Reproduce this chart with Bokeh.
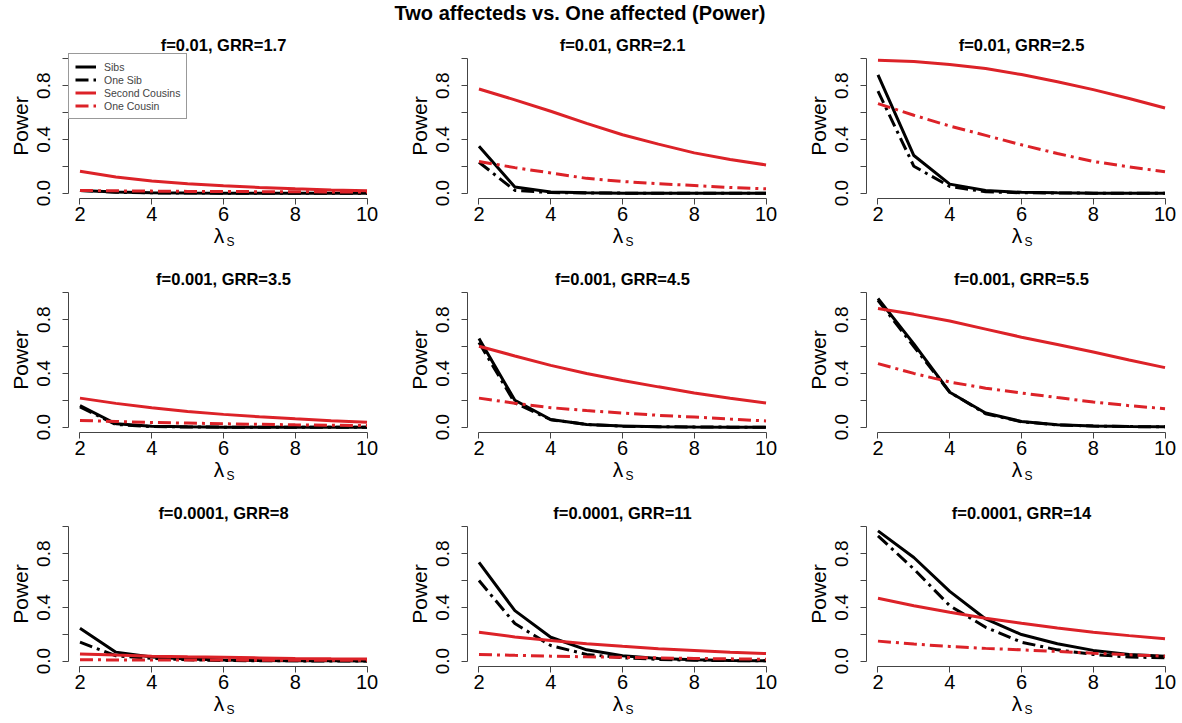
from bokeh.plotting import figure
from bokeh.layouts import gridplot, column
from bokeh.models import (FixedTicker, PrintfTickFormatter, Legend,
                          LegendItem, Div, Range1d, LinearAxis)
from bokeh.embed import file_html
from bokeh.resources import INLINE

# ---------------- data ----------------
main_title = "Two affecteds vs. One affected (Power)"
lambda_s = [2, 3, 4, 5, 6, 7, 8, 9, 10]
x_ticks = [2, 4, 6, 8, 10]
y_ticks = [0.0, 0.4, 0.8]
y_minor_ticks = [0.2, 0.6, 1.0]
panel_titles = [
    "f=0.01, GRR=1.7", "f=0.01, GRR=2.1", "f=0.01, GRR=2.5",
    "f=0.001, GRR=3.5", "f=0.001, GRR=4.5", "f=0.001, GRR=5.5",
    "f=0.0001, GRR=8", "f=0.0001, GRR=11", "f=0.0001, GRR=14",
]
series_names = ["Sibs", "One Sib", "Second Cousins", "One Cousin"]
x_label_main = "λ"
x_label_sub = "S"
y_label = "Power"

sibs = [
    [0.02, 0.008, 0.003, 0.001, 0.0, 0.0, 0.0, 0.0, 0.0],
    [0.35, 0.045, 0.008, 0.002, 0.0, 0.0, 0.0, 0.0, 0.0],
    [0.88, 0.28, 0.067, 0.02, 0.006, 0.002, 0.0, 0.0, 0.0],
    [0.16, 0.025, 0.006, 0.002, 0.0, 0.0, 0.0, 0.0, 0.0],
    [0.66, 0.20, 0.057, 0.02, 0.008, 0.003, 0.001, 0.0, 0.0],
    [0.958, 0.62, 0.26, 0.105, 0.042, 0.018, 0.008, 0.004, 0.002],
    [0.245, 0.067, 0.03, 0.015, 0.008, 0.005, 0.003, 0.002, 0.001],
    [0.735, 0.376, 0.178, 0.084, 0.04, 0.02, 0.01, 0.005, 0.003],
    [0.97, 0.772, 0.52, 0.314, 0.198, 0.129, 0.08, 0.05, 0.037],
]
one_sib = [
    [0.02, 0.006, 0.002, 0.001, 0.0, 0.0, 0.0, 0.0, 0.0],
    [0.23, 0.02, 0.004, 0.001, 0.0, 0.0, 0.0, 0.0, 0.0],
    [0.76, 0.20, 0.05, 0.01, 0.003, 0.001, 0.0, 0.0, 0.0],
    [0.15, 0.02, 0.004, 0.001, 0.0, 0.0, 0.0, 0.0, 0.0],
    [0.63, 0.18, 0.055, 0.02, 0.007, 0.003, 0.001, 0.0, 0.0],
    [0.945, 0.60, 0.26, 0.10, 0.04, 0.017, 0.008, 0.004, 0.002],
    [0.141, 0.04, 0.02, 0.01, 0.005, 0.003, 0.002, 0.001, 0.001],
    [0.60, 0.28, 0.116, 0.05, 0.025, 0.013, 0.007, 0.004, 0.002],
    [0.933, 0.686, 0.413, 0.252, 0.141, 0.084, 0.05, 0.03, 0.025],
]
second_cousins = [
    [0.163, 0.12, 0.09, 0.07, 0.055, 0.042, 0.032, 0.024, 0.017],
    [0.776, 0.695, 0.61, 0.52, 0.435, 0.365, 0.30, 0.25, 0.21],
    [0.99, 0.98, 0.958, 0.928, 0.883, 0.83, 0.771, 0.705, 0.634],
    [0.216, 0.177, 0.144, 0.117, 0.095, 0.077, 0.062, 0.048, 0.037],
    [0.602, 0.53, 0.46, 0.40, 0.348, 0.30, 0.254, 0.215, 0.18],
    [0.883, 0.84, 0.79, 0.73, 0.67, 0.615, 0.56, 0.50, 0.443],
    [0.054, 0.045, 0.037, 0.032, 0.028, 0.024, 0.02, 0.017, 0.015],
    [0.215, 0.18, 0.153, 0.13, 0.11, 0.093, 0.08, 0.066, 0.056],
    [0.468, 0.413, 0.364, 0.32, 0.282, 0.246, 0.215, 0.19, 0.166],
]
one_cousin = [
    [0.02, 0.017, 0.015, 0.013, 0.012, 0.011, 0.01, 0.009, 0.008],
    [0.236, 0.19, 0.15, 0.11, 0.087, 0.07, 0.057, 0.042, 0.032],
    [0.667, 0.58, 0.50, 0.43, 0.36, 0.295, 0.236, 0.195, 0.16],
    [0.05, 0.042, 0.035, 0.03, 0.025, 0.021, 0.017, 0.014, 0.012],
    [0.216, 0.178, 0.145, 0.123, 0.105, 0.088, 0.075, 0.06, 0.046],
    [0.473, 0.40, 0.336, 0.29, 0.254, 0.22, 0.187, 0.16, 0.137],
    [0.01, 0.009, 0.009, 0.008, 0.008, 0.007, 0.007, 0.006, 0.006],
    [0.05, 0.043, 0.037, 0.032, 0.028, 0.024, 0.02, 0.017, 0.014],
    [0.149, 0.127, 0.109, 0.095, 0.084, 0.072, 0.059, 0.047, 0.037],
]

# ---------------- styling ----------------
FONT = "Liberation Sans"
RED = "#dc2228"
BLACK = "#000000"
AXIS_COL = "#444444"
DOTDASH = "13 5 3 5"

col_widths = [399, 399, 382]
FRAME_W = 310
FRAME_H = 145
BORDER_L = 68
TOP_B = 26
BOT_B = [63, 63, 55]
X_LO, X_HI = 1.68, 10.32
PX_PER_X = FRAME_W / (X_HI - X_LO)
LAM_X = 6 - 4.5 / PX_PER_X     # centre of the lambda glyph
SUB_X = 6 + 7.0 / PX_PER_X     # centre of the subscript S

figs = []
for i in range(9):
    r, c = divmod(i, 3)
    w = col_widths[c]
    h = TOP_B + FRAME_H + BOT_B[r]
    p = figure(width=w, height=h, output_backend="svg", toolbar_location=None,
               x_range=Range1d(X_LO, X_HI), y_range=Range1d(-0.04, 1.04),
               min_border_left=BORDER_L, min_border_right=w - BORDER_L - FRAME_W,
               min_border_top=TOP_B, min_border_bottom=BOT_B[r])
    p.outline_line_color = None
    p.grid.visible = False
    p.background_fill_color = "white"
    p.border_fill_color = "white"

    p.title.text = panel_titles[i]
    p.title.align = "center"
    p.title.text_font = FONT
    p.title.text_font_size = "16.5px"
    p.title.text_font_style = "bold"
    p.title.text_color = "black"
    p.title.standoff = 0

    # axes
    xa = p.xaxis[0]
    xa.ticker = FixedTicker(ticks=x_ticks)
    xa.bounds = (2, 10)
    ya = p.yaxis[0]
    ya.ticker = FixedTicker(ticks=y_ticks, minor_ticks=y_minor_ticks)
    ya.formatter = PrintfTickFormatter(format="%.1f")
    ya.bounds = (0, 1)
    ya.major_label_orientation = "vertical"
    ya.axis_label = y_label
    for ax in (xa, ya):
        ax.axis_line_color = AXIS_COL
        ax.major_tick_line_color = AXIS_COL
        ax.minor_tick_line_color = AXIS_COL
        ax.major_tick_out = 6
        ax.major_tick_in = 0
        ax.minor_tick_out = 6
        ax.minor_tick_in = 0
        ax.major_label_text_font = FONT
        ax.major_label_text_color = "black"
        ax.axis_label_text_font = FONT
        ax.axis_label_text_font_size = "21px"
        ax.axis_label_text_font_style = "normal"
        ax.axis_label_text_color = "black"
    xa.major_label_text_font_size = "20px"
    ya.major_label_text_font_size = "19px"
    xa.minor_tick_line_color = None
    xa.major_label_standoff = 2
    ya.major_label_standoff = 12
    ya.axis_label_standoff = 3

    # x axis title: lambda with subscript S, as two extra label-only axes
    lam_axis = LinearAxis(ticker=FixedTicker(ticks=[LAM_X]),
                          major_label_overrides={LAM_X: x_label_main},
                          axis_line_color=None, major_tick_line_color=None,
                          minor_tick_line_color=None, major_tick_out=0,
                          major_tick_in=0, major_label_standoff=0,
                          major_label_text_font=FONT,
                          major_label_text_font_size="21px",
                          major_label_text_color="black")
    sub_axis = LinearAxis(ticker=FixedTicker(ticks=[SUB_X]),
                          major_label_overrides={SUB_X: x_label_sub},
                          axis_line_color=None, major_tick_line_color=None,
                          minor_tick_line_color=None, major_tick_out=0,
                          major_tick_in=0, major_label_standoff=-15,
                          major_label_text_font=FONT,
                          major_label_text_font_size="12px",
                          major_label_text_color="black")
    p.add_layout(lam_axis, "below")
    p.add_layout(sub_axis, "below")

    r1 = p.line(lambda_s, sibs[i], line_color=BLACK, line_width=3)
    r2 = p.line(lambda_s, one_sib[i], line_color=BLACK, line_width=3, line_dash=DOTDASH)
    r3 = p.line(lambda_s, second_cousins[i], line_color=RED, line_width=3)
    r4 = p.line(lambda_s, one_cousin[i], line_color=RED, line_width=3, line_dash=DOTDASH)

    if i == 0:
        leg = Legend(items=[LegendItem(label=series_names[k], renderers=[rr])
                            for k, rr in enumerate([r1, r2, r3, r4])],
                     location="top_left", margin=0, padding=6, spacing=0,
                     label_height=13, glyph_height=13, glyph_width=21,
                     label_standoff=8, label_text_font=FONT,
                     label_text_font_size="10.5px",
                     border_line_color="#333333", border_line_width=1,
                     background_fill_color="white", background_fill_alpha=1)
        p.add_layout(leg)
    figs.append(p)

title_div = Div(text=main_title, width=1160, height=27, margin=(0, 0, 0, 0),
                styles={"text-align": "center", "font-weight": "bold",
                        "font-size": "20px", "font-family": FONT,
                        "line-height": "27px", "color": "black"})

grid = gridplot([figs[0:3], figs[3:6], figs[6:9]], toolbar_location=None)
layout = column(title_div, grid)

open("out.html", "w").write(file_html(layout, INLINE))
